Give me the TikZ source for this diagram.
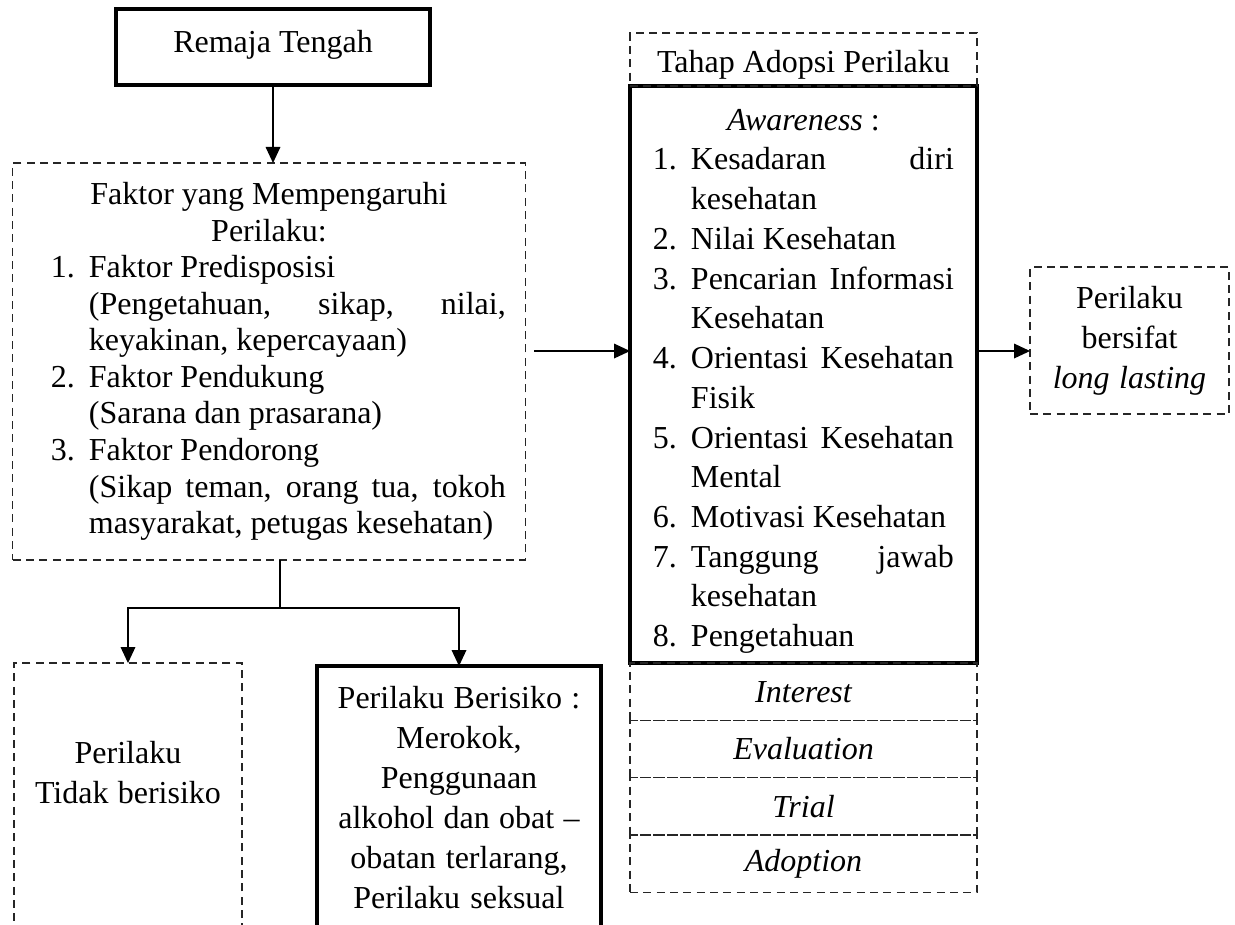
\documentclass[tikz,border=0pt]{standalone}
\usepackage{fontspec}
\setmainfont{Liberation Serif}
\usepackage{tikz}
\usetikzlibrary{arrows.meta,positioning}
\newlength{\fkw}\setlength{\fkw}{177.75pt}
\newlength{\fkpad}\setlength{\fkpad}{7.1pt}
\newlength{\numw}\setlength{\numw}{14.25pt}
\newlength{\fkiw}\setlength{\fkiw}{156.3pt}
\newlength{\aww}\setlength{\aww}{112.9pt}
\newlength{\awiw}\setlength{\awiw}{98.6pt}
\newcommand{\fkitem}[2]{\hspace*{\fkpad}\makebox[\numw][l]{#1}#2}
\newcommand{\fkcont}[1]{\hspace*{\fkpad}\hspace*{\numw}#1}
\newcommand{\awitem}[2]{\makebox[\numw][l]{#1}#2}
\newcommand{\awcont}[1]{\hspace*{\numw}#1}
\tikzset{
  thickbox/.style={
    rectangle, draw=black, line width=1.3pt,
    minimum width=#1,
    inner sep=0pt, outer sep=0pt,
    font=\fontsize{12pt}{15pt}\selectfont
  },
  thickbox/.default=130.1pt,
  dashbox/.style={
    rectangle, draw=black!85, dashed, dash pattern=on 3pt off 2pt,
    line width=0.45pt, minimum width=#1,
    inner sep=0pt, outer sep=0pt,
    font=\fontsize{12pt}{15pt}\selectfont
  },
  dashbox/.default=130.1pt,
  stagebox/.style={
    dashbox, minimum height=21.5pt, font=\fontsize{12pt}{15pt}\itshape
  },
  plainspace/.style={
    execute at begin node={\spaceskip=0pt\xspaceskip=0pt}
  },
  flowline/.style={line width=0.45pt},
  flowarrow/.style={
    -{Triangle[length=6pt,width=5.5pt]}, line width=0.45pt
  },
}
\begin{document}
\begin{tikzpicture}[x=0.375pt, y=-0.375pt]
\useasboundingbox (0,0) rectangle (1235,924);
\clip (0,0) rectangle (1235,924);

% Left column
\node[thickbox=117.75pt, minimum height=28.5pt, text depth=4.5pt] (remaja) at (273,47) {Remaja Tengah};

\node[dashbox=192.15pt, minimum height=148.9pt, text width=\fkw, align=left, plainspace,
      font=\fontsize{12pt}{13.7pt}\selectfont] (faktor) at (269,361.5) {%
  \makebox[\fkw]{Faktor yang Mempengaruhi}\\
  \makebox[\fkw]{Perilaku:}\\
  \fkitem{1.}{Faktor Predisposisi}\\
  \fkcont{\makebox[\fkiw][s]{(Pengetahuan, sikap, nilai,}}\\
  \fkcont{keyakinan, kepercayaan)}\\
  \fkitem{2.}{Faktor Pendukung}\\
  \fkcont{(Sarana dan prasarana)}\\
  \fkitem{3.}{Faktor Pendorong}\\
  \fkcont{\makebox[\fkiw][s]{(Sikap teman, orang tua, tokoh}}\\
  \fkcont{masyarakat, petugas kesehatan)}};

\node[dashbox=85.5pt, minimum height=100.1pt, text width=85.5pt, align=center, plainspace,
      text depth=33pt] (tidak) at (128,796.5)
  {Perilaku\\Tidak berisiko};
\node[thickbox=106.5pt, minimum height=99pt, text width=106.5pt, align=center, plainspace]
  (beri) at (459,798)
  {Perilaku Berisiko :\\Merokok,\\Penggunaan\\alkohol dan obat --\\obatan terlarang,\\Perilaku seksual};

% Adoption stages
\node[thickbox, minimum height=216.4pt, text width=\aww, align=left, plainspace,
      text height=13pt, font=\fontsize{12pt}{14.9pt}\selectfont] (aware) at (803.5,374.5) {%
  \makebox[\aww]{\textit{Awareness} :}\\
  \awitem{1.}{\makebox[\awiw][s]{Kesadaran diri}}\\
  \awcont{kesehatan}\\
  \awitem{2.}{Nilai Kesehatan}\\
  \awitem{3.}{\makebox[\awiw][s]{Pencarian Informasi}}\\
  \awcont{Kesehatan}\\
  \awitem{4.}{\makebox[\awiw][s]{Orientasi Kesehatan}}\\
  \awcont{Fisik}\\
  \awitem{5.}{\makebox[\awiw][s]{Orientasi Kesehatan}}\\
  \awcont{Mental}\\
  \awitem{6.}{Motivasi Kesehatan}\\
  \awitem{7.}{\makebox[\awiw][s]{Tanggung jawab}}\\
  \awcont{kesehatan}\\
  \awitem{8.}{Pengetahuan}};
\node[dashbox, minimum height=19.9pt, text height=12.7pt, above=0pt of aware] (tahap) {Tahap Adopsi Perilaku};
\node[stagebox, below=0pt of aware] (interest) {Interest};
\node[stagebox, below=0pt of interest] (eval) {Evaluation};
\node[stagebox, below=0pt of eval] (trial) {Trial};
\node[stagebox, below=0pt of trial] (adopt) {Adoption};

\node[dashbox=74.6pt, minimum height=55.1pt, text width=74.6pt, align=center, plainspace]
  (lasting) at (1129.5,340.5)
  {Perilaku\\bersifat\\\textit{long lasting}};

% Connectors
\draw[flowarrow] (remaja.south) -- (remaja.south |- faktor.north);
\coordinate (fa) at ([shift={(9,-10.5)}]faktor.east);
\draw[flowarrow] (fa) -- (fa -| aware.west);
\draw[flowarrow] (aware.east |- fa) -- (lasting.west |- fa);
\coordinate (split) at ([shift={(11,48)}]faktor.south);
\draw[flowline] (faktor.south -| split) -- (split);
\draw[flowarrow] (split) -| (tidak.north);
\draw[flowarrow] (split) -| (beri.north);

\end{tikzpicture}
\end{document}
